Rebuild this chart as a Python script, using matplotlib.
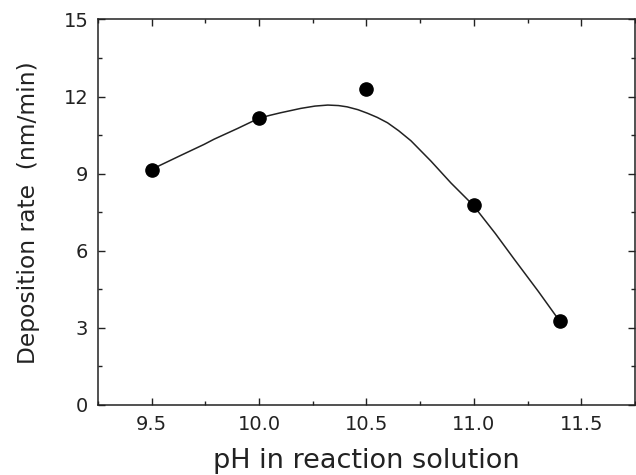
import numpy as np
import matplotlib
matplotlib.use('Agg')
import matplotlib.pyplot as plt
from matplotlib.ticker import MultipleLocator, FormatStrFormatter

# measured points
ph = [9.5, 10.0, 10.5, 11.0, 11.4]
rate = [9.15, 11.15, 12.3, 7.78, 3.28]

# smooth guide curve
fit_ph = [9.5, 9.635, 9.744, 9.79, 9.9, 10.0, 10.05, 10.1, 10.15, 10.194, 10.26, 10.32,
          10.37, 10.41, 10.46, 10.505, 10.55, 10.598, 10.65, 10.707, 10.80, 10.893,
          10.996, 11.1, 11.188, 11.3, 11.398]
fit_rate = [9.17, 9.71, 10.14, 10.34, 10.76, 11.16, 11.27, 11.37, 11.46, 11.54, 11.63, 11.67,
            11.65, 11.60, 11.49, 11.35, 11.19, 10.98, 10.67, 10.28, 9.49, 8.64,
            7.78, 6.67, 5.67, 4.42, 3.28]

fig = plt.figure(figsize=(6.36, 4.75), dpi=100)
ax = fig.add_axes([0.1541, 0.1474, 0.8443, 0.8116])

ax.plot(fit_ph, fit_rate, color='#222222', lw=1.1)
ax.plot(ph, rate, 'o', color='black', markersize=9.5)

ax.set_xlim(9.25, 11.75)
ax.set_ylim(0, 15)
ax.xaxis.set_major_locator(MultipleLocator(0.5))
ax.xaxis.set_minor_locator(MultipleLocator(0.25))
ax.xaxis.set_major_formatter(FormatStrFormatter('%.1f'))
ax.yaxis.set_major_locator(MultipleLocator(3))
ax.yaxis.set_minor_locator(MultipleLocator(1.5))

ax.tick_params(which='both', direction='in', top=True, right=True,
               color='#222222', width=1.0)
ax.tick_params(which='major', length=5, labelsize=14, labelcolor='#222222', pad=7)
ax.tick_params(which='minor', length=3)
for s in ax.spines.values():
    s.set_linewidth(1.1)
    s.set_color('#222222')

ax.set_xlabel('pH in reaction solution', fontsize=19.5, color='#222222', labelpad=10)
ax.set_ylabel('Deposition rate  (nm/min)', fontsize=16.8, color='#222222', labelpad=17)

fig.savefig('out.png', dpi=100)
